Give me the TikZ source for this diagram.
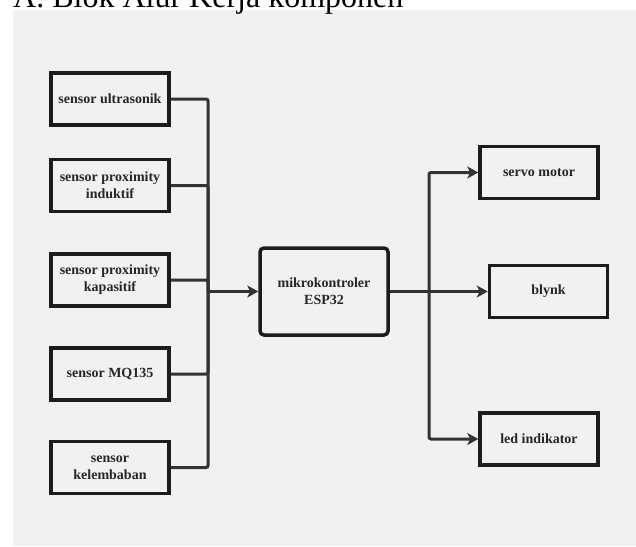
\documentclass[tikz,border=0pt]{standalone}
\usepackage{fontspec}
\setmainfont{Liberation Serif}
\usepackage{tikz}
\usetikzlibrary{arrows.meta,positioning}
\definecolor{latar}{HTML}{F1F1F1}
\definecolor{garisblok}{HTML}{1C1C1C}
\definecolor{gariskabel}{HTML}{333333}

\begin{document}
\begin{tikzpicture}[x=1pt,y=-1pt,
  blok/.style={draw=garisblok,line width=3.5pt,minimum width=118pt,minimum height=52pt,
    align=center,inner sep=2pt,text=black!85,font=\fontsize{14}{17}\selectfont\bfseries},
  kabel/.style={draw=gariskabel,line width=3pt,rounded corners=2pt},
  panah/.style={kabel,-{Stealth[length=11pt,width=12pt,inset=3pt]}}]
\useasboundingbox (0,0) rectangle (636,546);
\fill[latar] (13,10) rectangle (636,546);
\node[anchor=base west,inner sep=0pt,font=\fontsize{32}{36}\selectfont] (judul) at (13,8) {A. Blok Alur Kerja komponen};
% sensor
\node[blok] (ultrasonik) at (110,99) {sensor ultrasonik};
\node[blok] (induktif) at (110,185.5) {sensor proximity\\induktif};
\node[blok] (kapasitif) at (110,280) {sensor proximity\\kapasitif};
\node[blok] (mq) at (110,374) {sensor MQ135};
\node[blok] (lembab) at (110,467.5) {sensor\\kelembaban};
% mikrokontroler
\node[blok,rounded corners=4pt,minimum width=128pt,minimum height=87pt] (esp) at (324,291.5) {mikrokontroler\\ESP32};
% output
\node[blok] (servo) at (539,172.5) {servo motor};
\node[blok] (blynk) at (548.5,291.5) {blynk};
\node[blok] (led) at (539,439) {led indikator};
\coordinate (kiri) at (208,291.5);
\coordinate (kanan) at (429,291.5);
\draw[kabel] (ultrasonik.east) -| (kiri);
\draw[kabel] (induktif.east) -| (kiri);
\draw[kabel] (kapasitif.east) -| (kiri);
\draw[kabel] (mq.east) -| (kiri);
\draw[kabel] (lembab.east) -| (kiri);
\draw[panah] (kiri) -- (esp.west);
\draw[panah] (esp.east) -- (blynk.west);
\draw[panah] (kanan) |- (servo.west);
\draw[panah] (kanan) |- (led.west);
\end{tikzpicture}
\end{document}
